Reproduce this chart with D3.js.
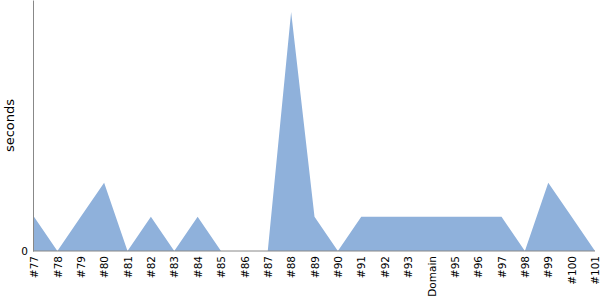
<!DOCTYPE html>
<html>
<head>
<meta charset="utf-8">
<script src="https://cdn.jsdelivr.net/npm/d3@7"></script>
<style>
  body { margin: 0; background: #fff; }
</style>
</head>
<body>
<div id="chart"></div>
<script>
// categories along the x axis
const categories = ['#77', '#78', '#79', '#80', '#81', '#82', '#83', '#84', '#85', '#86',
  '#87', '#88', '#89', '#90', '#91', '#92', '#93', 'Domain', '#95', '#96', '#97', '#98',
  '#99', '#100', '#101']
// seconds per category
const seconds = [1, 0, 1, 2, 0, 1, 0, 1, 0, 0, 0, 7, 1, 0, 1, 1, 1, 1, 1, 1, 1, 0, 2, 1, 0]
const yTicks = [0]

const FONT = '"DejaVu Sans", sans-serif'
const width = 600, height = 300
const margin = { left: 34, right: 5, top: 0, bottom: 49 }

const svg = d3.select('#chart')
  .append('svg')
  .attr('width', width)
  .attr('height', height)

const data = categories.map((c, i) => ({ cat: c, value: seconds[i] }))

const x = d3.scalePoint()
  .domain(categories)
  .range([margin.left, width - margin.right])

const y = d3.scaleLinear()
  .domain([0, 7.35])
  .range([height - margin.bottom, margin.top])

const area = d3.area()
  .x(d => x(d.cat))
  .y0(y(0))
  .y1(d => y(d.value))

svg.append('path')
  .datum(data)
  .attr('d', area)
  .attr('fill', '#8fb1db')

// x axis
const xAxis = svg.append('g')
  .attr('transform', `translate(0,${height - margin.bottom})`)
  .call(d3.axisBottom(x).tickSize(0).tickPadding(0))
  .attr('font-family', FONT)
xAxis.select('.domain').attr('stroke', '#888').attr('d', `M${margin.left - 1},0H${width - margin.right}`)
xAxis.selectAll('text')
  .attr('font-size', 10.5)
  .attr('fill', '#000')
  .attr('text-anchor', 'end')
  .attr('transform', 'rotate(-90)')
  .attr('x', -5)
  .attr('y', 0)
  .attr('dy', '0.35em')

// y axis
const yAxis = svg.append('g')
  .attr('transform', `translate(${margin.left - 1},0)`)
  .call(d3.axisLeft(y).tickValues(yTicks).tickSize(0).tickSizeOuter(0).tickPadding(5))
  .attr('font-family', FONT)
yAxis.select('.domain').attr('stroke', '#888')
yAxis.selectAll('text').attr('font-size', 10.5).attr('fill', '#000')

svg.append('text')
  .attr('transform', `translate(14,${(height - margin.bottom) / 2}) rotate(-90)`)
  .attr('text-anchor', 'middle')
  .attr('font-family', FONT)
  .attr('font-size', 13)
  .text('seconds')
</script>
</body>
</html>
